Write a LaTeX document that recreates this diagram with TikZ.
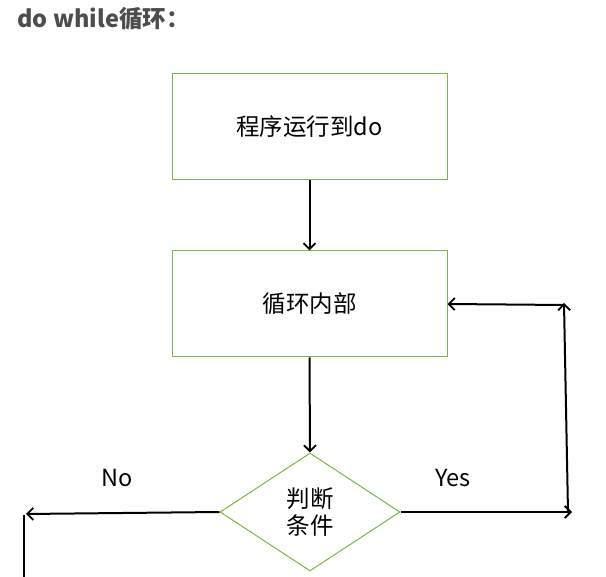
\documentclass[tikz,border=0pt]{standalone}
\usepackage{fontspec}
\setmainfont{Noto Sans CJK SC}
\usetikzlibrary{shapes.geometric,arrows.meta}
\definecolor{boxgreen}{HTML}{7AB648}
\definecolor{titlegrey}{HTML}{4D4D4D}
\begin{document}
\begin{tikzpicture}[x=1pt,y=-1pt,
  stepbox/.style={draw=boxgreen,line width=1pt,minimum width=275pt,minimum height=106pt,inner sep=0pt,font=\fontsize{23.5}{26}\selectfont},
  decision/.style={diamond,draw=boxgreen,line width=1pt,minimum width=180pt,minimum height=118pt,aspect=1.5,inner sep=0pt,font=\fontsize{23.5}{27}\selectfont,align=center},
  flow/.style={line width=2pt,-{Straight Barb[length=6pt,width=12pt,line width=1.8pt]}},
  plainline/.style={line width=2pt},
  lbl/.style={font=\fontsize{23.5}{26}\selectfont}]
\useasboundingbox (0,0) rectangle (606,577);
\node[anchor=west,text=titlegrey,font=\fontsize{23.5}{26}\selectfont\bfseries] (title) at (14,19) {do while循环：};
\node[stepbox] (start) at (309.5,127) {程序运行到do};
\node[stepbox] (body) at (309.5,304) {循环内部};
\node[decision] (cond) at (310,512) {判断\\条件};
\coordinate (yesend) at (572,512);
\coordinate (upbot) at (568,512);
\coordinate (uptop) at (564,303);
\coordinate (backstart) at (564,305);
\coordinate (noend) at (26,514);
\coordinate (downtop) at (24,515);
\coordinate (downbot) at (24,578);
\draw[flow] (start.south) -- (body.north);
\draw[flow] (body.south) -- (cond.north);
\draw[flow] (cond.east) -- (yesend);
\draw[flow] (upbot) -- (uptop);
\draw[flow] (backstart) -- (body.east);
\draw[flow] (cond.west) -- (noend);
\draw[plainline] (downtop) -- (downbot);
\node[lbl] (yes) at (453,478) {Yes};
\node[lbl] (no) at (117,478) {No};
\end{tikzpicture}
\end{document}
